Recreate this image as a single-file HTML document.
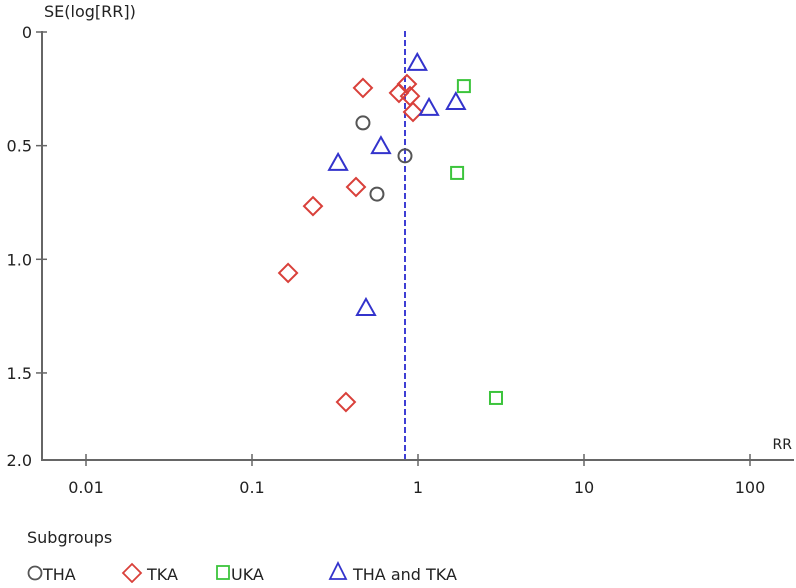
<!DOCTYPE html>
<html><head><meta charset="utf-8"><style>
body{margin:0;background:#fff;}
svg text{font-family:"DejaVu Sans","Liberation Sans",sans-serif;fill:#222;}
</style></head><body>
<svg id="chart" width="796" height="583" viewBox="0 0 796 583">
<g id="axes"></g><g id="marks"></g>
<g>
<text x="27" y="543" font-size="16">Subgroups</text>
<circle cx="35" cy="573" r="6.5" fill="none" stroke="#555" stroke-width="1.8"/>
<text x="43" y="580" font-size="16">THA</text>
<path d="M132,564 L141,573 L132,582 L123,573Z" fill="none" stroke="#d9403a" stroke-width="1.8"/>
<text x="147" y="580" font-size="16">TKA</text>
<rect x="217" y="566" width="12" height="13" fill="none" stroke="#3cc43c" stroke-width="1.8"/>
<text x="231" y="580" font-size="16">UKA</text>
<path d="M338,563 L346,579 L330,579Z" fill="none" stroke="#3333cc" stroke-width="1.8"/>
<text x="353" y="580" font-size="16">THA and TKA</text>
</g>
</svg>
<script>
const yTicks=[0,0.5,1.0,1.5];
const yTickLabels=["0","0.5","1.0","1.5"];
const xTicks=[0.01,0.1,1,10,100];
const xTickLabels=["0.01","0.1","1","10","100"];
const pooledRR=0.835;
const thaRR=[0.466,0.835,0.566];
const thaSE=[0.40,0.545,0.713];
const tkaRR=[0.466,0.858,0.768,0.895,0.933,0.423,0.233,0.165,0.368];
const tkaSE=[0.246,0.229,0.268,0.282,0.352,0.682,0.766,1.060,1.628];
const ukaRR=[1.89,1.72,2.95];
const ukaSE=[0.238,0.620,1.61];
const bothRR=[0.99,1.165,1.69,0.598,0.33,0.486];
const bothSE=[0.136,0.334,0.308,0.502,0.576,1.214];

const NS="http://www.w3.org/2000/svg";
function X(rr){return 418+166*Math.log10(rr);}
function Y(se){return 32+227.3*se;}
function mk(tag,attrs,parent){const e=document.createElementNS(NS,tag);for(const k in attrs)e.setAttribute(k,attrs[k]);parent.appendChild(e);return e;}
const axes=document.getElementById('axes'),marks=document.getElementById('marks');
let l=mk('line',{x1:42,y1:31,x2:42,y2:461,stroke:'#666','stroke-width':2},axes);


l=mk('line',{x1:41,y1:460,x2:794,y2:460,stroke:'#666','stroke-width':2},axes);


yTicks.forEach((v,i)=>{
 const t=mk('line',{x1:36,y1:Y(v),x2:47,y2:Y(v),stroke:'#666','stroke-width':1.5},axes);
 
 
 const tx=mk('text',{x:32,y:Y(v)+6,'font-size':16,'text-anchor':'end'},axes);tx.textContent=yTickLabels[i];
 
 
});
let t2=mk('text',{x:32,y:466,'font-size':16,'text-anchor':'end'},axes);t2.textContent="2.0";


xTicks.forEach((v,i)=>{
 const t=mk('line',{x1:X(v),y1:454,x2:X(v),y2:466,stroke:'#666','stroke-width':1.5},axes);
 
 
 const tx=mk('text',{x:X(v),y:493,'font-size':16,'text-anchor':'middle'},axes);tx.textContent=xTickLabels[i];
 
 
});
let yt=mk('text',{x:44,y:17,'font-size':16},axes);yt.textContent="SE(log[RR])";


let xt=mk('text',{x:792,y:449,'font-size':14,'text-anchor':'end','fill':'#333'},axes);xt.textContent="RR";


let d=mk('line',{x1:X(pooledRR),y1:31,x2:X(pooledRR),y2:459,stroke:'#2a2ad0','stroke-width':1.8,'stroke-dasharray':'6,3'},marks);


thaRR.forEach((r,i)=>{const e=mk('circle',{cx:X(r),cy:Y(thaSE[i]),r:6.5,fill:'none',stroke:'#555','stroke-width':2},marks);
 
 });
tkaRR.forEach((r,i)=>{const x=X(r),y=Y(tkaSE[i]);const e=mk('path',{d:`M${x},${y-9}L${x+9},${y}L${x},${y+9}L${x-9},${y}Z`,fill:'none',stroke:'#d9403a','stroke-width':2},marks);
 
 });
ukaRR.forEach((r,i)=>{const e=mk('rect',{x:X(r)-6,y:Y(ukaSE[i])-6,width:12,height:12,fill:'none',stroke:'#3cc43c','stroke-width':2},marks);
 
 });
bothRR.forEach((r,i)=>{const x=X(r),y=Y(bothSE[i]);const e=mk('path',{d:`M${x},${y-9}L${x+9},${y+7}L${x-9},${y+7}Z`,fill:'none',stroke:'#3333cc','stroke-width':2},marks);
 
 });
</script>
</body></html>
